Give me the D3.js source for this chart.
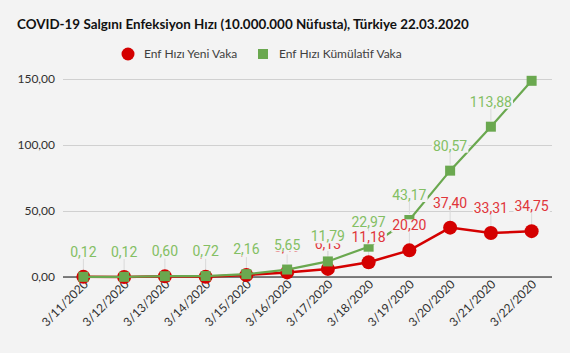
<!DOCTYPE html>
<html lang="tr">
<head>
<meta charset="UTF-8">
<title>COVID-19 Enfeksiyon Hızı</title>
<script src="https://cdn.jsdelivr.net/npm/d3@7"></script>
<style>
  body { margin: 0; background: #f3f3f3; }
  svg { display: block; }
</style>
</head>
<body>
<svg id="chart" width="570" height="353"></svg>
<script>
// data
const dates = ["3/11/2020", "3/12/2020", "3/13/2020", "3/14/2020", "3/15/2020", "3/16/2020",
  "3/17/2020", "3/18/2020", "3/19/2020", "3/20/2020", "3/21/2020", "3/22/2020"];
const yeniVaka = [0.12, 0.00, 0.48, 0.12, 1.44, 3.49, 6.13, 11.18, 20.20, 37.40, 33.31, 34.75];
const kumulatif = [0.12, 0.12, 0.60, 0.72, 2.16, 5.65, 11.79, 22.97, 43.17, 80.57, 113.88, 148.63];
const yTicks = [0, 50, 100, 150];
const title = "COVID-19 Salgını Enfeksiyon Hızı (10.000.000 Nüfusta), Türkiye 22.03.2020";
const seriesNames = ["Enf Hızı Yeni Vaka", "Enf Hızı Kümülatif Vaka"];

const trLocale = d3.formatLocale({ decimal: ",", thousands: ".", grouping: [3], currency: ["", " ₺"] });
const fmt = trLocale.format(",.2f");

const svg = d3.select("#chart");
const BG = "#f3f3f3";
const RED = "#d40000", GREEN = "#6aa84f";
const RED_LBL = "#e0353a", GREEN_LBL = "#83bf63";

const x = d3.scalePoint().domain(dates).range([63, 552]).padding(0.5);
const y = d3.scaleLinear().domain([0, 150]).range([277, 79]);

// title
svg.append("text")
  .attr("x", 17).attr("y", 29)
  .attr("font-family", "Lato, sans-serif")
  .attr("font-weight", "bold")
  .attr("font-size", 13.4)
  .attr("fill", "#111")
  .text(title);

// legend
const leg = svg.append("g").attr("font-family", "Lato, sans-serif").attr("font-size", 12).attr("fill", "#404040");
leg.append("circle").attr("cx", 128).attr("cy", 54).attr("r", 6.5).attr("fill", RED);
leg.append("text").attr("x", 144).attr("y", 58).text(seriesNames[0]);
leg.append("rect").attr("x", 258).attr("y", 49).attr("width", 10).attr("height", 10).attr("fill", GREEN);
leg.append("text").attr("x", 279).attr("y", 58).text(seriesNames[1]);

// gridlines + y labels
const yAxis = svg.append("g")
  .attr("transform", "translate(63,0)")
  .call(d3.axisLeft(y).tickValues(yTicks).tickSize(-489).tickFormat(fmt).tickPadding(8));
yAxis.select(".domain").remove();
yAxis.selectAll(".tick line").attr("stroke", "#d0d0d0").attr("stroke-width", 1.2);
yAxis.selectAll(".tick text")
  .attr("font-family", "Lato, sans-serif").attr("font-size", 12).attr("fill", "#303030");

// x axis line
svg.append("line")
  .attr("x1", 63).attr("x2", 552).attr("y1", y(0)).attr("y2", y(0))
  .attr("stroke", "#595959").attr("stroke-width", 1.5);

// x labels
const xAxis = svg.append("g")
  .attr("transform", `translate(0,${y(0)})`)
  .call(d3.axisBottom(x).tickSize(0).tickPadding(0));
xAxis.select(".domain").remove();
xAxis.selectAll(".tick text")
  .attr("font-family", "Lato, sans-serif").attr("font-size", 12).attr("fill", "#303030")
  .attr("text-anchor", "end")
  .attr("dy", 0)
  .attr("transform", "translate(5,8) rotate(-45)");

const idx = d3.range(dates.length);
const line = vals => d3.line().x(i => x(dates[i])).y(i => y(vals[i]))(idx);

// leader lines (label to point)
function leaders(vals, show) {
  svg.append("g").selectAll("line")
    .data(idx.filter(show))
    .join("line")
    .attr("x1", i => x(dates[i])).attr("x2", i => x(dates[i]))
    .attr("y1", i => y(vals[i]) - 19).attr("y2", i => y(vals[i]) - 6)
    .attr("stroke", "#d9d9d9").attr("stroke-width", 1);
}
leaders(kumulatif, i => i < 11);
leaders(yeniVaka, i => i >= 6);

// red series
svg.append("path").attr("d", line(yeniVaka))
  .attr("fill", "none").attr("stroke", RED).attr("stroke-width", 2.5);
svg.append("g").selectAll("circle")
  .data(idx)
  .join("circle")
  .attr("cx", i => x(dates[i])).attr("cy", i => y(yeniVaka[i]))
  .attr("r", 7).attr("fill", RED);

// green series
svg.append("path").attr("d", line(kumulatif))
  .attr("fill", "none").attr("stroke", GREEN).attr("stroke-width", 2.2);
svg.append("g").selectAll("rect")
  .data(idx)
  .join("rect")
  .attr("x", i => x(dates[i]) - 5).attr("y", i => y(kumulatif[i]) - 5)
  .attr("width", 10).attr("height", 10)
  .attr("fill", GREEN);

// data labels with a background box, like the spreadsheet ones
function labels(vals, show, color) {
  const g = svg.append("g");
  const t = g.selectAll("text")
    .data(idx.filter(show))
    .join("text")
    .attr("x", i => x(dates[i])).attr("y", i => y(vals[i]) - 20)
    .attr("text-anchor", "middle")
    .attr("font-family", "Roboto, sans-serif").attr("font-size", 14)
    .attr("fill", color)
    .text(i => fmt(vals[i]));
  t.each(function () {
    const b = this.getBBox();
    g.insert("rect", () => this)
      .attr("x", b.x - 1).attr("y", b.y + 2)
      .attr("width", b.width + 2).attr("height", b.height - 3)
      .attr("fill", BG);
  });
}

// red labels sit under the green ones, both above the lines
labels(yeniVaka, () => true, RED_LBL);
// last green label is hidden by the legend in the original
labels(kumulatif, i => i < 11, GREEN_LBL);
</script>
</body>
</html>
